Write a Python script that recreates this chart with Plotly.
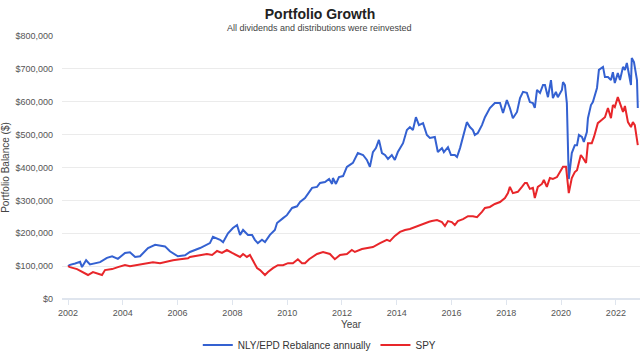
import plotly.graph_objects as go

# NLY/EPD Rebalance annually (decimal year, balance $k)
nly_years = [2002.00, 2002.07, 2002.26, 2002.44, 2002.51, 2002.66, 2002.80, 2002.99, 2003.17, 2003.42,
             2003.61, 2003.82, 2004.08, 2004.26, 2004.45, 2004.63, 2004.92, 2005.18, 2005.36, 2005.54,
             2005.72, 2006.01, 2006.27, 2006.45, 2006.82, 2007.18, 2007.29, 2007.55, 2007.66, 2007.84,
             2008.02, 2008.17, 2008.28, 2008.39, 2008.57, 2008.72, 2008.82, 2008.93, 2009.08, 2009.19,
             2009.37, 2009.55, 2009.63, 2009.74, 2009.85, 2009.99, 2010.18, 2010.36, 2010.47, 2010.65,
             2010.76, 2010.91, 2011.09, 2011.20, 2011.38, 2011.53, 2011.64, 2011.67, 2011.78, 2011.89,
             2012.04, 2012.18, 2012.29, 2012.40, 2012.58, 2012.77, 2012.91, 2013.02, 2013.13, 2013.24,
             2013.35, 2013.46, 2013.57, 2013.68, 2013.82, 2013.93, 2014.04, 2014.23, 2014.37, 2014.48,
             2014.59, 2014.70, 2014.81, 2014.96, 2015.10, 2015.21, 2015.39, 2015.50, 2015.65, 2015.72,
             2015.87, 2015.98, 2016.12, 2016.20, 2016.31, 2016.42, 2016.56, 2016.67, 2016.78, 2016.85,
             2016.96, 2017.11, 2017.22, 2017.40, 2017.58, 2017.77, 2017.88, 2018.02, 2018.13, 2018.24,
             2018.39, 2018.50, 2018.61, 2018.75, 2018.86, 2018.97, 2019.04, 2019.12, 2019.23, 2019.34,
             2019.41, 2019.52, 2019.63, 2019.70, 2019.81, 2019.88, 2020.03, 2020.07, 2020.14, 2020.21,
             2020.28, 2020.39, 2020.50, 2020.58, 2020.65, 2020.76, 2020.83, 2020.94, 2020.98, 2021.09,
             2021.16, 2021.31, 2021.38, 2021.53, 2021.60, 2021.71, 2021.82, 2021.89, 2021.96, 2022.07,
             2022.15, 2022.26, 2022.33, 2022.40, 2022.55, 2022.58, 2022.66, 2022.77, 2022.80]
nly_values_k = [100, 104, 108, 113, 97, 118, 105, 108, 112, 125,
                130, 122, 140, 142, 128, 130, 155, 165, 162, 160,
                145, 130, 133, 143, 155, 170, 189, 180, 173, 200,
                216, 225, 195, 210, 195, 195, 180, 170, 180, 173,
                195, 210, 231, 240, 246, 255, 277, 282, 295, 307,
                320, 338, 341, 353, 356, 365, 350, 368, 350, 371,
                374, 402, 408, 414, 444, 438, 423, 402, 447, 459,
                484, 444, 438, 426, 438, 423, 447, 474, 514, 523,
                514, 553, 529, 535, 499, 490, 493, 447, 459, 447,
                462, 438, 438, 432, 459, 493, 538, 523, 514, 499,
                505, 529, 553, 581, 596, 596, 566, 605, 581, 550,
                569, 611, 630, 627, 599, 596, 581, 636, 627, 651,
                651, 614, 666, 611, 630, 614, 636, 660, 651, 596,
                365, 444, 468, 468, 499, 493, 478, 508, 550, 590,
                599, 642, 697, 706, 675, 675, 666, 690, 657, 687,
                666, 706, 697, 718, 651, 733, 721, 666, 581]

# SPY (decimal year, balance $k)
spy_years = [2002.00, 2002.07, 2002.33, 2002.55, 2002.73, 2002.91, 2003.09, 2003.24, 2003.35, 2003.61,
             2003.82, 2004.08, 2004.26, 2004.45, 2004.70, 2004.88, 2005.10, 2005.36, 2005.61, 2005.83,
             2006.09, 2006.38, 2006.45, 2006.82, 2007.07, 2007.26, 2007.44, 2007.62, 2007.80, 2007.99,
             2008.17, 2008.28, 2008.39, 2008.53, 2008.64, 2008.75, 2008.90, 2009.01, 2009.19, 2009.30,
             2009.48, 2009.66, 2009.85, 2010.03, 2010.21, 2010.39, 2010.54, 2010.65, 2010.80, 2011.09,
             2011.31, 2011.56, 2011.74, 2011.93, 2012.18, 2012.36, 2012.47, 2012.73, 2012.95, 2013.13,
             2013.39, 2013.64, 2013.75, 2013.93, 2014.12, 2014.30, 2014.48, 2014.66, 2014.85, 2015.03,
             2015.18, 2015.28, 2015.47, 2015.65, 2015.76, 2015.87, 2016.01, 2016.12, 2016.23, 2016.42,
             2016.60, 2016.78, 2016.93, 2017.11, 2017.22, 2017.40, 2017.58, 2017.77, 2017.95, 2018.06,
             2018.13, 2018.24, 2018.42, 2018.57, 2018.68, 2018.75, 2018.86, 2018.97, 2019.04, 2019.15,
             2019.30, 2019.37, 2019.48, 2019.59, 2019.70, 2019.85, 2019.96, 2020.07, 2020.18, 2020.28,
             2020.39, 2020.50, 2020.58, 2020.72, 2020.80, 2020.91, 2020.98, 2021.12, 2021.20, 2021.34,
             2021.49, 2021.60, 2021.71, 2021.82, 2021.89, 2021.96, 2022.07, 2022.18, 2022.26, 2022.33,
             2022.44, 2022.55, 2022.62, 2022.69, 2022.80]
spy_values_k = [100, 97, 91, 82, 73, 82, 76, 73, 88, 91,
                97, 103, 100, 103, 106, 109, 112, 109, 115, 118,
                121, 124, 128, 134, 137, 134, 146, 140, 149, 140,
                134, 128, 137, 128, 134, 118, 94, 88, 73, 82,
                94, 103, 103, 109, 109, 121, 109, 109, 121, 137,
                143, 137, 121, 134, 137, 149, 143, 152, 155, 158,
                170, 180, 176, 192, 204, 210, 213, 219, 225, 231,
                235, 237, 240, 234, 222, 237, 234, 225, 237, 243,
                252, 252, 249, 265, 277, 280, 289, 295, 307, 322,
                341, 322, 326, 341, 353, 353, 335, 338, 307, 341,
                350, 362, 341, 368, 365, 371, 386, 402, 402, 322,
                368, 386, 392, 438, 429, 414, 474, 474, 493, 535,
                545, 553, 581, 550, 590, 584, 614, 584, 569, 587,
                538, 523, 538, 529, 468]

y_ticks = [0, 100000, 200000, 300000, 400000, 500000, 600000, 700000, 800000]
y_tick_labels = ["$0", "$100,000", "$200,000", "$300,000", "$400,000",
                 "$500,000", "$600,000", "$700,000", "$800,000"]

FONT = "Liberation Sans, Arial, sans-serif"

fig = go.Figure()
fig.add_trace(go.Scatter(x=nly_years, y=[v * 1000 for v in nly_values_k], mode="lines",
                         name="NLY/EPD Rebalance annually",
                         line=dict(color="#3461d1", width=2)))
fig.add_trace(go.Scatter(x=spy_years, y=[v * 1000 for v in spy_values_k], mode="lines",
                         name="SPY",
                         line=dict(color="#e8262a", width=2)))

fig.update_layout(
    width=640, height=353,
    margin=dict(l=62, r=0, t=36, b=54, autoexpand=False),
    paper_bgcolor="white", plot_bgcolor="white",
    font=dict(family=FONT, size=9, color="#666666"),
    title=dict(text="<b>Portfolio Growth</b>", x=0.5, xanchor="center",
               y=1 - 14 / 353, yanchor="middle",
               font=dict(family=FONT, size=14, color="#222222")),
    showlegend=True,
    legend=dict(orientation="h", x=0.446, xanchor="center", y=-0.175, yanchor="middle",
                font=dict(family=FONT, size=10, color="#333333"), itemwidth=30),
    annotations=[dict(text="All dividends and distributions were reinvested",
                      xref="paper", yref="paper", x=0.446, y=1, yshift=8,
                      xanchor="center", yanchor="middle", showarrow=False,
                      font=dict(family=FONT, size=9, color="#444444"))],
)
fig.update_xaxes(range=[2001.78, 2022.88], tick0=2002, dtick=2, tickformat="d",
                 showgrid=False, zeroline=False, showline=False,
                 ticks="outside", ticklen=5, tickcolor="#dfe5ee", tickwidth=1,
                 tickfont=dict(size=9, color="#555555"),
                 title=dict(text="Year", standoff=4, font=dict(size=10, color="#444444")))
fig.update_yaxes(range=[0, 800000], tickvals=y_ticks, ticktext=y_tick_labels,
                 showgrid=True, gridcolor="#ebebeb", gridwidth=1,
                 zeroline=True, zerolinecolor="#dfe5ee", zerolinewidth=2,
                 showline=False, ticklabelstandoff=8,
                 tickfont=dict(size=9, color="#555555"),
                 title=dict(text="Portfolio Balance ($)", standoff=6,
                            font=dict(size=10, color="#444444")))

fig.write_html("out.html")
